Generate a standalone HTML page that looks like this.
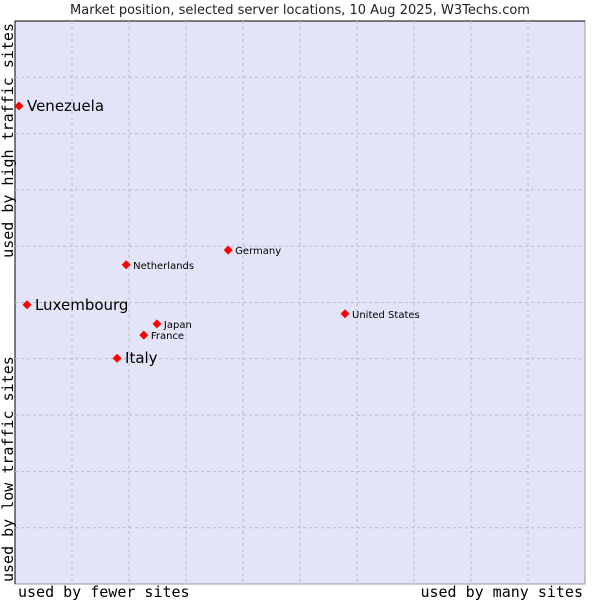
<!DOCTYPE html>
<html><head><meta charset="utf-8"><style>
body{margin:0;background:#fff;width:600px;height:600px;overflow:hidden}
svg{display:block}
</style></head><body>
<svg id="chart" width="600" height="600" xmlns="http://www.w3.org/2000/svg" font-family="'DejaVu Sans', 'Liberation Sans', sans-serif">
<text x="300" y="14" text-anchor="middle" font-size="13" fill="#222">Market position, selected server locations, 10 Aug 2025, W3Techs.com</text>
<rect x="15" y="21" width="570" height="563" fill="#e3e4f8" stroke="#999" stroke-width="1"/>
<line x1="15" y1="21" x2="585" y2="21" stroke="#000"/>
<line x1="15" y1="21" x2="15" y2="584" stroke="#000"/>
<g id="grid"></g>
<g id="points"></g>
<text x="18" y="597" font-family="'DejaVu Sans Mono','Liberation Mono',monospace" font-size="15" fill="#000">used by fewer sites</text>
<text x="583" y="597" text-anchor="end" font-family="'DejaVu Sans Mono','Liberation Mono',monospace" font-size="15" fill="#000">used by many sites</text>
<text transform="translate(13,23) rotate(-90)" text-anchor="end" font-family="'DejaVu Sans Mono','Liberation Mono',monospace" font-size="15" fill="#000">used by high traffic sites</text>
<text transform="translate(13,582) rotate(-90)" font-family="'DejaVu Sans Mono','Liberation Mono',monospace" font-size="15" fill="#000">used by low traffic sites</text>
</svg>
<script>
const names = ["Venezuela","Luxembourg","Italy","Netherlands","Germany","United States","Japan","France"];
const xValues = [0.7,2.1,17.9,19.5,37.4,57.9,24.9,22.6];
const yValues = [84.9,49.6,40.1,56.7,59.3,48.0,46.2,44.2];
const highlighted = [true,true,true,false,false,false,false,false];
const NS="http://www.w3.org/2000/svg";
const L=15,R=585,T=21,B=584;
const xs=v=>L+v/100*(R-L);
const ys=v=>B-v/100*(B-T);
const grid=document.getElementById('grid');
for(let i=1;i<10;i++){
  const x=L+i*57;
  const l=document.createElementNS(NS,'line');
  
  
  l.setAttribute('x1',x);l.setAttribute('x2',x);l.setAttribute('y1',T);l.setAttribute('y2',B);
  l.setAttribute('stroke','#bbb');l.setAttribute('stroke-dasharray','3,3');
  grid.appendChild(l);
  const y=T+i*56.3;
  const h=document.createElementNS(NS,'line');
  
  
  h.setAttribute('x1',L);h.setAttribute('x2',R);h.setAttribute('y1',y);h.setAttribute('y2',y);
  h.setAttribute('stroke','#bbb');h.setAttribute('stroke-dasharray','3,3');
  grid.appendChild(h);
}
const pts=document.getElementById('points');
names.forEach((n,i)=>{
  const x=xs(xValues[i]),y=ys(yValues[i]);
  const d=document.createElementNS(NS,'polygon');
  
  
  d.setAttribute('points',`${x},${y-4.5} ${x+4.5},${y} ${x},${y+4.5} ${x-4.5},${y}`);
  d.setAttribute('fill','#f00');
  pts.appendChild(d);
  const t=document.createElementNS(NS,'text');
  
  
  t.setAttribute('x',x+(highlighted[i]?8:7));
  t.setAttribute('y',y+(highlighted[i]?5:4));
  t.setAttribute('font-size',highlighted[i]?15:10);
  t.setAttribute('fill','#000');
  t.textContent=n;
  pts.appendChild(t);
});
</script>
</body></html>
